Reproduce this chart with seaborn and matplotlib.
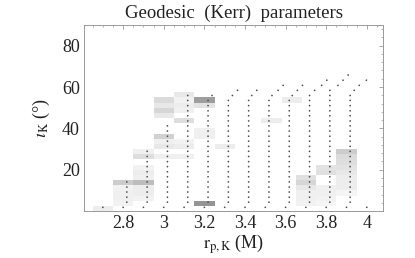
import numpy as np
import pandas as pd
import seaborn as sns
import matplotlib.pyplot as plt
from matplotlib.ticker import MultipleLocator

# celdas sombreadas (centro en r, borde inferior en grados, nivel de gris 1=blanco)
cell_r = [2.7,
          2.8, 2.8, 2.8, 2.8, 2.8,
          2.9, 2.9, 2.9, 2.9, 2.9, 2.9, 2.9, 2.9, 2.9,
          3.0, 3.0, 3.0, 3.0, 3.0, 3.0, 3.0, 3.0,
          3.1, 3.1, 3.1, 3.1, 3.1, 3.1, 3.1, 3.1,
          3.2, 3.2, 3.2, 3.2, 3.2,
          3.3, 3.53, 3.63,
          3.7, 3.7, 3.7, 3.7, 3.7, 3.7,
          3.8, 3.8, 3.8, 3.8, 3.8, 3.8,
          3.9, 3.9, 3.9, 3.9, 3.9, 3.9, 3.9, 3.9, 3.9]
cell_i = [0,
          2.5, 5, 7.5, 10, 12.5,
          5, 7.5, 10, 12.5, 15, 17.5, 20, 25, 27.5,
          25, 30, 32.5, 35, 45, 47.5, 50, 52.5,
          25, 30, 32.5, 42.5, 47.5, 50, 52.5, 55,
          2.5, 35, 37.5, 50, 52.5,
          30, 42.5, 52.5,
          2.5, 5, 7.5, 10, 12.5, 15,
          2.5, 5, 7.5, 10, 17.5, 20,
          7.5, 10, 12.5, 15, 17.5, 20, 22.5, 25, 27.5]
cell_g = [0.93,
          0.95, 0.94, 0.94, 0.95, 0.80,
          0.95, 0.93, 0.93, 0.74, 0.94, 0.93, 0.95, 0.87, 0.94,
          0.94, 0.91, 0.94, 0.82, 0.91, 0.84, 0.91, 0.86,
          0.94, 0.93, 0.95, 0.87, 0.94, 0.93, 0.95, 0.91,
          0.58, 0.94, 0.94, 0.89, 0.62,
          0.93, 0.93, 0.93,
          0.95, 0.94, 0.94, 0.91, 0.84, 0.88,
          0.96, 0.95, 0.94, 0.94, 0.88, 0.89,
          0.96, 0.93, 0.93, 0.93, 0.91, 0.89, 0.87, 0.86, 0.80]

# curvas de puntos: r inicial, numero de puntos y desvio final (en r)
curve_r0 = [2.7, 2.8, 2.9, 3.0, 3.1, 3.2, 3.3, 3.4, 3.5, 3.6, 3.7, 3.8, 3.9, 4.0]
curve_n = [1, 6, 12, 17, 23, 23, 24, 24, 25, 25, 26, 27, 26, 1]
curve_tail = [[], [], [], [], [], [0.02], [0.02, 0.045], [0.015, 0.04],
              [0.015, 0.045, 0.07], [0.015, 0.04, 0.065], [0.025, 0.06, 0.085],
              [0.04, 0.065, 0.09], [0.02, 0.045, 0.08], []]
body_shift = 0.018
angles = [1.8, 4.3, 6.7, 9.2, 11.6, 14.1, 16.6, 19.0, 21.5, 23.9, 26.4, 28.9,
          31.3, 33.8, 36.2, 38.7, 41.2, 43.6, 46.1, 48.5, 51.0, 53.5, 55.9,
          58.4, 60.8, 63.3, 65.8]

rows = []
for r0, n, tail in zip(curve_r0, curve_n, curve_tail):
    for k in range(n):
        dr = 0 if k == 0 else body_shift
        j = k - (n - len(tail))
        if j >= 0:
            dr = body_shift + tail[j]
        rows.append({"r": r0 + dr, "iota": angles[k]})
puntos = pd.DataFrame(rows)

sns.set_theme(style="white")
plt.rcParams["font.family"] = ["Liberation Serif", "DejaVu Serif"]
plt.rcParams["mathtext.fontset"] = "stix"

fig = plt.figure(figsize=(4.15, 2.58), dpi=100)
ax = fig.add_axes([0.2024, 0.182, 0.7206, 0.721])

ax.bar(cell_r, 2.5, bottom=cell_i, width=0.1,
       color=[str(g) for g in cell_g], linewidth=0, align="center")
sns.scatterplot(data=puntos, x="r", y="iota", ax=ax, s=1.5, color="#4d4d4d",
                edgecolor="none", legend=False)

ax.set_xlim(2.607, 4.08)
ax.set_ylim(0, 90)
ax.xaxis.set_major_locator(MultipleLocator(0.2))
ax.xaxis.set_minor_locator(MultipleLocator(0.05))
ax.yaxis.set_major_locator(MultipleLocator(20))
ax.yaxis.set_minor_locator(MultipleLocator(4))
ax.set_xticks([2.8, 3.0, 3.2, 3.4, 3.6, 3.8, 4.0])
ax.set_xticklabels(["2.8", "3", "3.2", "3.4", "3.6", "3.8", "4"])
ax.set_yticks([20, 40, 60, 80])
ax.set_yticklabels(["20", "40", "60", "80"])
ax.tick_params(which="both", direction="in", top=True, right=True,
               color="#999999", labelsize=13, pad=3, labelcolor="#222222")
ax.tick_params(which="major", length=3, width=0.6)
ax.tick_params(which="minor", length=1.5, width=0.5)
for s in ax.spines.values():
    s.set_color("#999999")
    s.set_linewidth(0.7)

ax.set_title("Geodesic  (Kerr)  parameters", fontsize=13.5, color="#222222", pad=5)
ax.set_xlabel(r"$\mathrm{r}_{\mathrm{p,K}}$ (M)", fontsize=13, color="#222222", labelpad=0)
ax.set_ylabel(r"$\iota_{\mathrm{K}}$ (°)", fontsize=13, color="#222222", labelpad=7)

fig.savefig("out.png", dpi=100)
